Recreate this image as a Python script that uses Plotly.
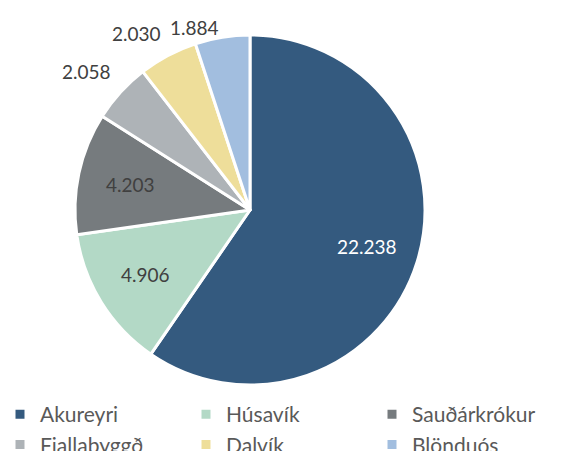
import math
import plotly.graph_objects as go

labels = ["Akureyri", "Húsavík", "Sauðárkrókur", "Fjallabyggð", "Dalvík", "Blönduós"]
values = [22238, 4906, 4203, 2058, 2030, 1884]
colors = ["#345A7F", "#B3D9C6", "#767B7E", "#AEB3B7", "#EEDE9A", "#A2BEDF"]
text_colors = ["#FFFFFF", "#404040", "#404040", "#404040", "#404040", "#404040"]
outside = [False, False, False, True, True, True]

W, H = 566, 451
cx, cy, R = 250, 210, 175  # pie centre / radius in pixels

def fmt(v):
    return f"{v:,}".replace(",", ".")

fig = go.Figure(go.Pie(
    labels=labels,
    values=values,
    sort=False,
    direction="clockwise",
    rotation=0,
    domain=dict(x=[(cx - R) / W, (cx + R) / W], y=[1 - (cy + R) / H, 1 - (cy - R) / H]),
    marker=dict(colors=colors, line=dict(color="white", width=3)),
    textinfo="none",
    hoverinfo="label+value",
))

# data labels placed along each slice's mid-angle
total = sum(values)
cum = 0
annotations = []
for v, o, tc in zip(values, outside, text_colors):
    mid = (cum + v / 2) / total * 2 * math.pi
    cum += v
    if o:
        r = R + 10
        xa = "right"
        ya = "middle" if math.cos(mid) > 0.95 else "bottom"
    else:
        r = 0.70 * R
        xa, ya = "center", "middle"
    annotations.append(dict(
        x=cx / W, y=1 - cy / H, xref="paper", yref="paper",
        xshift=r * math.sin(mid), yshift=r * math.cos(mid),
        text=fmt(v), showarrow=False,
        xanchor=xa, yanchor=ya,
        font=dict(size=19, color=tc, family="Lato"),
    ))

fig.update_layout(
    width=W, height=H,
    paper_bgcolor="white",
    plot_bgcolor="white",
    margin=dict(l=0, r=0, t=0, b=0, autoexpand=False),
    showlegend=True,
    annotations=annotations,
    legend=dict(
        orientation="h",
        x=0, y=1 - 394 / H, xanchor="left", yanchor="top",
        entrywidth=141, entrywidthmode="pixels",
        font=dict(size=21, color="#595959", family="Lato"),
        itemwidth=30,
        tracegroupgap=0,
    ),
    font=dict(family="Lato"),
)

fig.write_html("out.html", config={"displayModeBar": False},
               post_script="document.body.style.margin='0px';")
